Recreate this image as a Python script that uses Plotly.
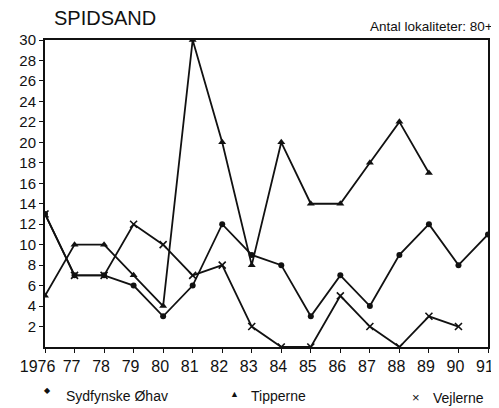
import plotly.graph_objects as go

years_syd = list(range(1976, 1992))
syd = [13, 7, 7, 6, 3, 6, 12, 9, 8, 3, 7, 4, 9, 12, 8, 11]

years_tip = list(range(1976, 1990))
tip = [5, 10, 10, 7, 4, 30, 20, 8, 20, 14, 14, 18, 22, 17]

years_vej = list(range(1976, 1991))
vej = [13, 7, 7, 12, 10, 7, 8, 2, 0, 0, 5, 2, 0, 3, 2]

x_ticks = list(range(1976, 1992))
x_labels = ["1976\u00a0\u00a0"] + [str(y)[2:] for y in range(1977, 1992)]
y_ticks = list(range(2, 31, 2))

FONT = "Liberation Sans, Arial, sans-serif"
INK = "#111111"

fig = go.Figure()
fig.add_trace(go.Scatter(x=years_syd, y=syd, mode="lines+markers", name="Sydfynske Øhav",
                         line=dict(color=INK, width=1.8),
                         marker=dict(symbol="circle", size=6, color=INK)))
fig.add_trace(go.Scatter(x=years_tip, y=tip, mode="lines+markers", name="Tipperne",
                         line=dict(color=INK, width=1.8),
                         marker=dict(symbol="triangle-up", size=7, color=INK)))
fig.add_trace(go.Scatter(x=years_vej, y=vej, mode="lines+markers", name="Vejlerne",
                         line=dict(color=INK, width=1.8),
                         marker=dict(symbol="x-thin-open", size=7, color=INK,
                                     line=dict(color=INK, width=1.6))))

# page body has an 8px margin, so the figure is shrunk by 8px and margins shifted
fig.update_layout(
    width=491, height=400,
    margin=dict(l=37, r=11, t=32, b=61, autoexpand=False),
    paper_bgcolor="white", plot_bgcolor="white",
    showlegend=False,
    font=dict(family=FONT, color=INK),
)
fig.update_xaxes(range=[1976, 1991], tickvals=x_ticks, ticktext=x_labels,
                 showgrid=False, zeroline=False, showline=True, linecolor=INK, linewidth=2,
                 mirror=True, ticks="outside", ticklen=4, tickcolor=INK, ticklabelshift=-3,
                 tickangle=0, automargin=False,
                 tickfont=dict(size=16, family=FONT, color=INK))
fig.update_yaxes(range=[0, 30], tickvals=y_ticks,
                 showgrid=False, zeroline=False, showline=True, linecolor=INK, linewidth=2,
                 mirror=True, ticks="outside", ticklen=4, tickcolor=INK, automargin=False,
                 tickfont=dict(size=15, family=FONT, color=INK))

ann = [
    dict(text="SPIDSAND", x=52, y=18, size=20, anchor="left"),
    dict(text="Antal lokaliteter: 80+", x=495, y=27, size=13.5, anchor="right"),
    dict(text="Sydfynske Øhav", x=64, y=396, size=14, anchor="left"),
    dict(text="Tipperne", x=249, y=396, size=14, anchor="left"),
    dict(text="Vejlerne", x=431, y=398, size=14, anchor="left"),
    dict(text="◆", x=42, y=390, size=8, anchor="left"),
    dict(text="▲", x=228, y=394, size=9, anchor="left"),
    dict(text="×", x=410, y=397, size=13, anchor="left"),
]
for a in ann:
    fig.add_annotation(text=a["text"], xref="paper", yref="paper",
                       x=(a["x"] - 45) / 443, y=1 - (a["y"] - 40) / 307,
                       xanchor=a["anchor"], yanchor="middle", showarrow=False,
                       font=dict(size=a["size"], family=FONT, color=INK))

fig.write_html("out.html")
